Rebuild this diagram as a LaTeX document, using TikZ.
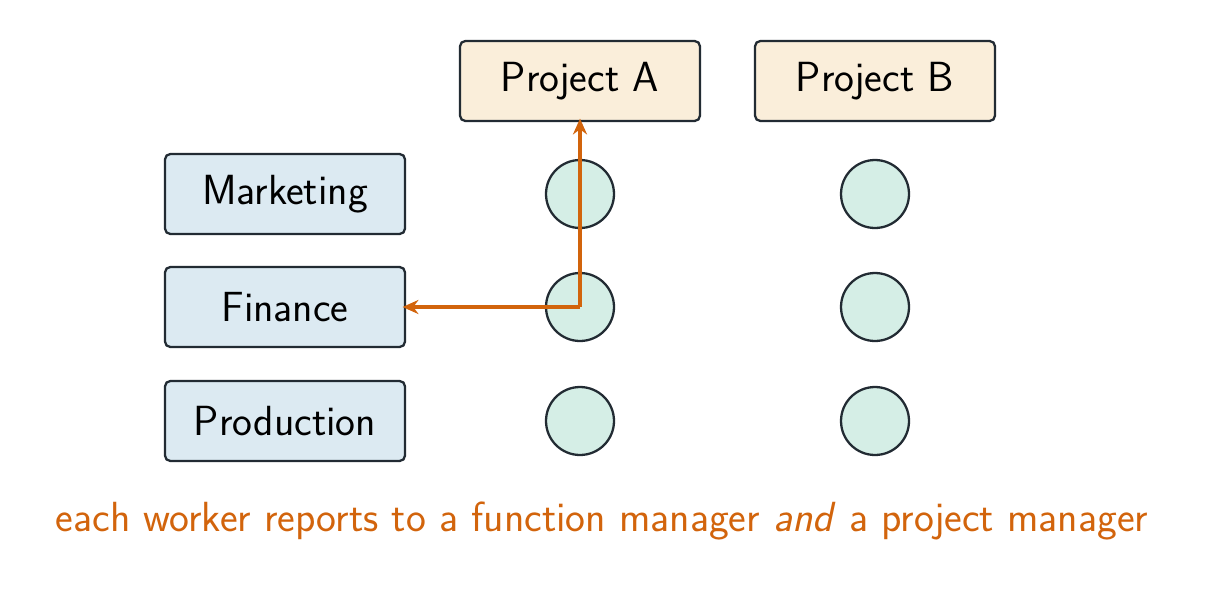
\documentclass[tikz,border=0pt]{standalone}
\usetikzlibrary{arrows.meta}
\renewcommand\familydefault{\sfdefault}
\begin{document}
\begin{tikzpicture}[x=0.02cm,y=-0.02cm,
  every node/.style={font=\fontsize{24}{28}\selectfont},
  box/.style={draw=strokec,line width=1.3pt,rounded corners=3pt,minimum width=4.8cm,minimum height=1.6cm,inner sep=0pt},
  proj/.style={box,fill=projc},
  func/.style={box,fill=funcc},
  worker/.style={circle,draw=strokec,line width=1.3pt,fill=workc,minimum size=1.36cm,inner sep=0pt},
  link/.style={draw=orangec,line width=2pt,shorten >=-2pt,-{Stealth[length=9pt,width=8pt]}}]
\definecolor{strokec}{HTML}{222B33}
\definecolor{projc}{HTML}{FAEEDA}
\definecolor{funcc}{HTML}{DCEAF2}
\definecolor{workc}{HTML}{D5EEE6}
\definecolor{orangec}{HTML}{D2640C}
\useasboundingbox (0,0) rectangle (1206,595);
\node[proj] (pa) at (580,81) {Project A};
\node[proj] (pb) at (875,81) {Project B};
\node[func] (mk) at (285,194) {Marketing};
\node[func] (fi) at (285,307) {Finance};
\node[func] (pr) at (285,421) {Production};
\foreach \c/\x in {a/580,b/875}{
  \node[worker] (w\c1) at (\x,194) {};
  \node[worker] (w\c2) at (\x,307) {};
  \node[worker] (w\c3) at (\x,421) {};
}
\coordinate (c) at (wa2.center);
\draw[link] (c) -- (fi.east);
\draw[link] (c) -- (pa.south);
\node[text=orangec] (cap) at (602,521) {each worker reports to a function manager \textit{and} a project manager};
\end{tikzpicture}
\end{document}
